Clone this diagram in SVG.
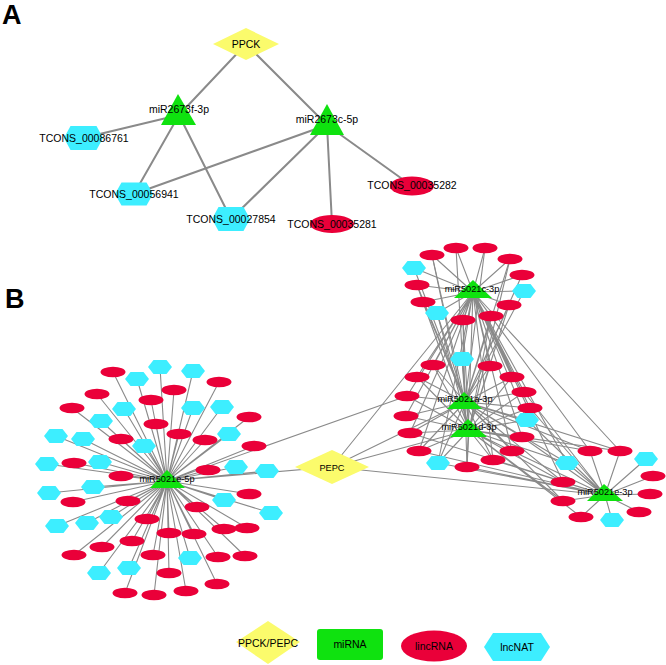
<svg xmlns="http://www.w3.org/2000/svg" xmlns:xlink="http://www.w3.org/1999/xlink" width="666" height="665" viewBox="0 0 666 665">
<style>
text{font-family:"Liberation Sans",Arial,sans-serif;fill:#000;text-anchor:middle}
.pl{font-size:27px;font-weight:bold;text-anchor:start}
.la{font-size:10.5px}
.lb{font-size:9.2px}
.gene{fill:#FBFB6C}
.mir{fill:#0FE20F}
.linc{fill:#EA0039}
.nat{fill:#3DEEFF}
.ea{stroke:#8a8a8a;stroke-width:2;fill:none}
.eb{stroke:#8a8a8a;stroke-width:1.1;fill:none}
</style>
<defs>
<ellipse id="le" cx="0" cy="0" rx="12.5" ry="5.3" class="linc"/>
<polygon id="hx" points="-12,0 -6.5,-7 6.5,-7 12,0 6.5,7 -6.5,7" class="nat"/>
</defs>
<text class="pl" x="2" y="24">A</text>
<text class="pl" x="5" y="308">B</text>
<g id="connectors">
<path class="ea" d="M246 44L179 115M246 44L327 125M179 115L83 138M179 115L134 194M179 115L231 219M327 125L134 194M327 125L231 219M327 125L332 224M327 125L412 186"/>
<path class="eb" d="M167 481L113 372M167 481L174 390M167 481L219 382M167 481L97 394M167 481L151 400M167 481L72 408M167 481L249 417M167 481L156 424M167 481L179 434M167 481L121 439M167 481L205 440M167 481L254 446M167 481L74 463M167 481L208 470M167 481L121 476M167 481L249 494M167 481L73 502M167 481L128 501M167 481L197 507M167 481L147 519M167 481L169 533M167 481L194 534M167 481L224 529M167 481L247 528M167 481L132 541M167 481L102 547M167 481L74 555M167 481L153 555M167 481L218 557M167 481L245 556M167 481L169 573M167 481L217 584M167 481L125 593M167 481L154 595M167 481L186 591M167 481L160 367M167 481L193 371M167 481L137 379M167 481L124 409M167 481L193 408M167 481L222 407M167 481L101 421M167 481L56 436M167 481L83 439M167 481L144 446M167 481L229 434M167 481L47 464M167 481L100 462M167 481L236 467M167 481L267 471M167 481L49 493M167 481L93 487M167 481L224 500M167 481L271 513M167 481L57 526M167 481L87 523M167 481L111 517M167 481L190 558M167 481L129 568M167 481L99 573M167 481L407 396M167 481L332 467"/>
<path class="eb" d="M332 467L473 292M332 467L465 402M332 467L469 430M332 467L605 495"/>
<path class="eb" d="M473 292L432 255M473 292L456 248M473 292L485 248M473 292L510 259M473 292L522 275M473 292L417 285M473 292L423 302M473 292L509 305M473 292L491 316M473 292L463 320M473 292L414 268M473 292L524 291M473 292L437 313M473 292L433 365M473 292L417 377M473 292L407 396M473 292L406 416M473 292L410 433M473 292L419 451M473 292L467 467M473 292L493 460M473 292L512 451M473 292L522 437M473 292L530 408M473 292L524 392M473 292L512 377M473 292L490 366M473 292L462 359M473 292L527 420M473 292L438 463M473 292L590 451M473 292L620 451M473 292L563 482M473 292L567 463"/>
<path class="eb" d="M465 402L432 255M465 402L456 248M465 402L485 248M465 402L510 259M465 402L522 275M465 402L417 285M465 402L423 302M465 402L509 305M465 402L491 316M465 402L463 320M465 402L414 268M465 402L524 291M465 402L437 313M465 402L433 365M465 402L417 377M465 402L407 396M465 402L406 416M465 402L410 433M465 402L419 451M465 402L467 467M465 402L493 460M465 402L512 451M465 402L522 437M465 402L530 408M465 402L524 392M465 402L512 377M465 402L490 366M465 402L462 359M465 402L527 420M465 402L438 463M465 402L590 451M465 402L620 451M465 402L563 482M465 402L567 463M465 402L563 501"/>
<path class="eb" d="M469 430L433 365M469 430L417 377M469 430L407 396M469 430L406 416M469 430L410 433M469 430L419 451M469 430L467 467M469 430L493 460M469 430L512 451M469 430L522 437M469 430L530 408M469 430L524 392M469 430L512 377M469 430L490 366M469 430L462 359M469 430L527 420M469 430L438 463M469 430L417 285M469 430L423 302M469 430L437 313M469 430L463 320M469 430L491 316M469 430L509 305M469 430L432 255M469 430L510 259M469 430L590 451M469 430L620 451M469 430L563 482M469 430L567 463M469 430L563 501M469 430L581 517"/>
<path class="eb" d="M605 495L590 451M605 495L620 451M605 495L653 476M605 495L650 494M605 495L639 512M605 495L581 517M605 495L563 501M605 495L563 482M605 495L567 463M605 495L646 459M605 495L612 520M605 495L522 437M605 495L512 451M605 495L493 460M605 495L530 408M605 495L527 420M605 495L524 392M605 495L467 467M605 495L419 451M605 495L438 463M605 495L410 433"/>
</g>
<g id="PPCK"><polygon class="gene" points="213,44 246,28 279,44 246,60"/><text class="la" x="246" y="48">PPCK</text></g>
<g id="TCONS_00086761"><polygon class="nat" points="64,138 70.5,126 96.5,126 103,138 96.5,150 70.5,150"/><text class="la" x="84" y="142">TCONS_00086761</text></g>
<g id="TCONS_00056941"><polygon class="nat" points="115,194 121.5,182.5 146.5,182.5 153,194 146.5,205.5 121.5,205.5"/><text class="la" x="134" y="198">TCONS_00056941</text></g>
<g id="TCONS_00027854"><polygon class="nat" points="212,219 218.5,207 243.5,207 250,219 243.5,231 218.5,231"/><text class="la" x="231" y="223">TCONS_00027854</text></g>
<g id="TCONS_00035281"><ellipse class="linc" cx="332" cy="224" rx="22" ry="9"/><text class="la" x="332" y="228">TCONS_00035281</text></g>
<g id="TCONS_00035282"><ellipse class="linc" cx="412" cy="186" rx="22" ry="9.5"/><text class="la" x="412" y="189">TCONS_00035282</text></g>
<g id="miR2673f-3p"><polygon class="mir" points="178,94 196,125 161,125"/><text class="la" x="179" y="113">miR2673f-3p</text></g>
<g id="miR2673c-5p"><polygon class="mir" points="327,104 344,135 310,135"/><text class="la" x="327" y="123">miR2673c-5p</text></g>
<g id="targets-e5p">
<use id="l1" xlink:href="#le" x="113" y="372"/><use id="l2" xlink:href="#le" x="174" y="390"/><use id="l3" xlink:href="#le" x="219" y="382"/><use id="l4" xlink:href="#le" x="97" y="394"/><use id="l5" xlink:href="#le" x="151" y="400"/><use id="l6" xlink:href="#le" x="72" y="408"/><use id="l7" xlink:href="#le" x="249" y="417"/><use id="l8" xlink:href="#le" x="156" y="424"/><use id="l9" xlink:href="#le" x="179" y="434"/><use id="l10" xlink:href="#le" x="121" y="439"/><use id="l11" xlink:href="#le" x="205" y="440"/><use id="l12" xlink:href="#le" x="254" y="446"/><use id="l13" xlink:href="#le" x="74" y="463"/><use id="l14" xlink:href="#le" x="208" y="470"/><use id="l15" xlink:href="#le" x="121" y="476"/><use id="l16" xlink:href="#le" x="249" y="494"/><use id="l17" xlink:href="#le" x="73" y="502"/><use id="l18" xlink:href="#le" x="128" y="501"/><use id="l19" xlink:href="#le" x="197" y="507"/><use id="l20" xlink:href="#le" x="147" y="519"/><use id="l21" xlink:href="#le" x="169" y="533"/><use id="l22" xlink:href="#le" x="194" y="534"/><use id="l23" xlink:href="#le" x="224" y="529"/><use id="l24" xlink:href="#le" x="247" y="528"/><use id="l25" xlink:href="#le" x="132" y="541"/><use id="l26" xlink:href="#le" x="102" y="547"/><use id="l27" xlink:href="#le" x="74" y="555"/><use id="l28" xlink:href="#le" x="153" y="555"/><use id="l29" xlink:href="#le" x="218" y="557"/><use id="l30" xlink:href="#le" x="245" y="556"/><use id="l31" xlink:href="#le" x="169" y="573"/><use id="l32" xlink:href="#le" x="217" y="584"/><use id="l33" xlink:href="#le" x="125" y="593"/><use id="l34" xlink:href="#le" x="154" y="595"/><use id="l35" xlink:href="#le" x="186" y="591"/>
<use id="l36" xlink:href="#hx" x="160" y="367"/><use id="l37" xlink:href="#hx" x="193" y="371"/><use id="l38" xlink:href="#hx" x="137" y="379"/><use id="l39" xlink:href="#hx" x="124" y="409"/><use id="l40" xlink:href="#hx" x="193" y="408"/><use id="l41" xlink:href="#hx" x="222" y="407"/><use id="l42" xlink:href="#hx" x="101" y="421"/><use id="l43" xlink:href="#hx" x="56" y="436"/><use id="l44" xlink:href="#hx" x="83" y="439"/><use id="l45" xlink:href="#hx" x="144" y="446"/><use id="l46" xlink:href="#hx" x="229" y="434"/><use id="l47" xlink:href="#hx" x="47" y="464"/><use id="l48" xlink:href="#hx" x="100" y="462"/><use id="l49" xlink:href="#hx" x="236" y="467"/><use id="l50" xlink:href="#hx" x="267" y="471"/><use id="l51" xlink:href="#hx" x="49" y="493"/><use id="l52" xlink:href="#hx" x="93" y="487"/><use id="l53" xlink:href="#hx" x="224" y="500"/><use id="l54" xlink:href="#hx" x="271" y="513"/><use id="l55" xlink:href="#hx" x="57" y="526"/><use id="l56" xlink:href="#hx" x="87" y="523"/><use id="l57" xlink:href="#hx" x="111" y="517"/><use id="l58" xlink:href="#hx" x="190" y="558"/><use id="l59" xlink:href="#hx" x="129" y="568"/><use id="l60" xlink:href="#hx" x="99" y="573"/>
</g>
<g id="targets-c3p">
<use id="t1" xlink:href="#le" x="432" y="255"/><use id="t2" xlink:href="#le" x="456" y="248"/><use id="t3" xlink:href="#le" x="485" y="248"/><use id="t4" xlink:href="#le" x="510" y="259"/><use id="t5" xlink:href="#le" x="522" y="275"/><use id="t6" xlink:href="#le" x="417" y="285"/><use id="t7" xlink:href="#le" x="423" y="302"/><use id="t8" xlink:href="#le" x="509" y="305"/><use id="t9" xlink:href="#le" x="491" y="316"/><use id="t10" xlink:href="#le" x="463" y="320"/>
<use id="t11" xlink:href="#hx" x="414" y="268"/><use id="t12" xlink:href="#hx" x="524" y="291"/><use id="t13" xlink:href="#hx" x="437" y="313"/>
</g>
<g id="targets-ad3p">
<use id="m1" xlink:href="#le" x="433" y="365"/><use id="m2" xlink:href="#le" x="417" y="377"/><use id="m3" xlink:href="#le" x="407" y="396"/><use id="m4" xlink:href="#le" x="406" y="416"/><use id="m5" xlink:href="#le" x="410" y="433"/><use id="m6" xlink:href="#le" x="419" y="451"/><use id="m7" xlink:href="#le" x="467" y="467"/><use id="m8" xlink:href="#le" x="493" y="460"/><use id="m9" xlink:href="#le" x="512" y="451"/><use id="m10" xlink:href="#le" x="522" y="437"/><use id="m11" xlink:href="#le" x="530" y="408"/><use id="m12" xlink:href="#le" x="524" y="392"/><use id="m13" xlink:href="#le" x="512" y="377"/><use id="m14" xlink:href="#le" x="490" y="366"/>
<use id="m15" xlink:href="#hx" x="462" y="359"/><use id="m16" xlink:href="#hx" x="527" y="420"/><use id="m17" xlink:href="#hx" x="438" y="463"/>
</g>
<g id="targets-e3p">
<use id="r1" xlink:href="#le" x="590" y="451"/><use id="r2" xlink:href="#le" x="620" y="451"/><use id="r3" xlink:href="#le" x="653" y="476"/><use id="r4" xlink:href="#le" x="650" y="494"/><use id="r5" xlink:href="#le" x="639" y="512"/><use id="r6" xlink:href="#le" x="581" y="517"/><use id="r7" xlink:href="#le" x="563" y="501"/><use id="r8" xlink:href="#le" x="563" y="482"/>
<use id="r9" xlink:href="#hx" x="567" y="463"/><use id="r10" xlink:href="#hx" x="646" y="459"/><use id="r11" xlink:href="#hx" x="612" y="520"/>
</g>
<g id="PEPC"><polygon class="gene" points="295,467 332,450 369,467 332,484"/><text class="lb" x="332" y="470.5">PEPC</text></g>
<g id="miR5021e-5p"><polygon class="mir" points="167,470 185,488 150,488"/><text class="lb" x="167" y="482">miR5021e-5p</text></g>
<g id="miR5021c-3p"><polygon class="mir" points="473,280 492,298 454,298"/><text class="lb" x="472" y="292">miR5021c-3p</text></g>
<g id="miR5021a-3p"><polygon class="mir" points="464,392 482,409 447,409"/><text class="lb" x="465" y="402">miR5021a-3p</text></g>
<g id="miR5021d-3p"><polygon class="mir" points="468,419 487,437 450,437"/><text class="lb" x="469" y="430">miR5021d-3p</text></g>
<g id="miR5021e-3p"><polygon class="mir" points="604,484 623,501 587,501"/><text class="lb" x="605" y="495">miR5021e-3p</text></g>
<g id="legend">
<g id="legend-gene"><polygon class="gene" points="236,642 268,621 300,642 268,664"/><text class="la" x="268" y="647">PPCK/PEPC</text></g>
<g id="legend-mirna"><rect class="mir" x="317" y="629" width="66" height="31" rx="3"/><text class="la" x="350" y="648">miRNA</text></g>
<g id="legend-linc"><ellipse class="linc" cx="434" cy="646" rx="33" ry="15.5"/><text class="la" x="434" y="650">lincRNA</text></g>
<g id="legend-nat"><polygon class="nat" points="484,647 493,633 541,633 550,647 541,661 493,661"/><text class="la" x="517" y="651">lncNAT</text></g>
</g>
</svg>
